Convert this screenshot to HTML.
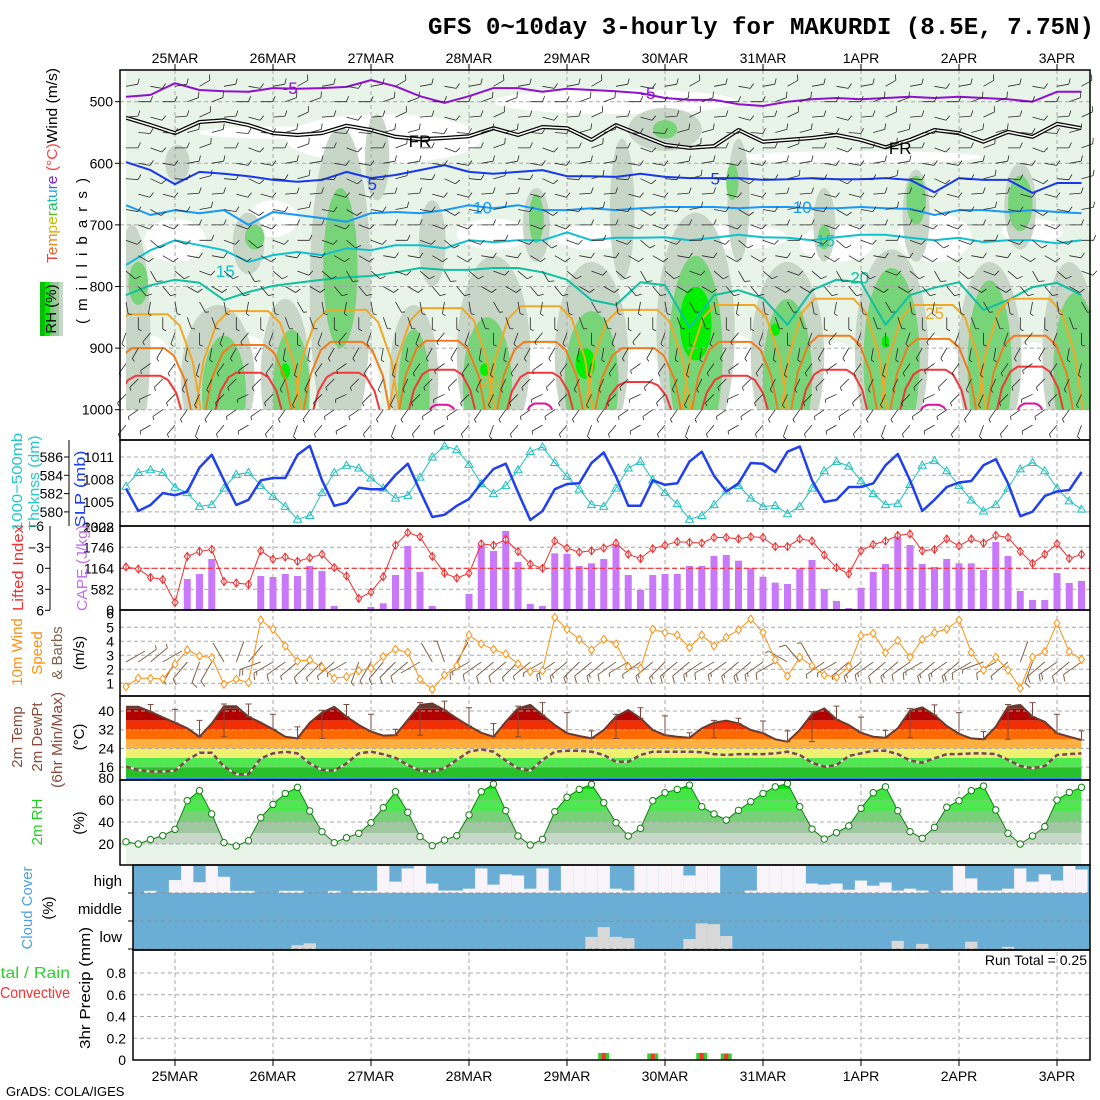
<!DOCTYPE html>
<html><head><meta charset="utf-8">
<style>
html,body{margin:0;padding:0;background:#fff;}
svg{display:block;font-family:"Liberation Sans",sans-serif;}
</style></head>
<body>
<svg id="chart" width="1100" height="1100" viewBox="0 0 1100 1100" xmlns="http://www.w3.org/2000/svg">
<defs>
<clipPath id="topClip"><rect x="126" y="70" width="964" height="340"/></clipPath>
<clipPath id="tempClip"><polygon id="tempClipPoly" points="0,0"/></clipPath>
<clipPath id="rhClip"><polygon id="rhClipPoly" points="0,0"/></clipPath>
</defs>
<rect x="0" y="0" width="1100" height="1100" fill="#fff"/>
<text x="428" y="34" font-family="Liberation Mono, monospace" font-weight="bold" font-size="24" textLength="666" lengthAdjust="spacingAndGlyphs">GFS 0~10day 3-hourly for MAKURDI (8.5E, 7.75N)</text>

<g id="gField" clip-path="url(#topClip)"></g>
<g id="gGrid"></g>
<g id="gIso" clip-path="url(#topClip)"></g>
<g id="gBarbs"></g>
<g id="gPanels"></g>
<g id="gFrames"></g>
<g id="gTicks"></g>

<text transform="translate(57,263) rotate(-90)" font-size="15" textLength="195" lengthAdjust="spacingAndGlyphs"><tspan fill="#f04040">T</tspan><tspan fill="#f06020">e</tspan><tspan fill="#f08a20">m</tspan><tspan fill="#e0b000">p</tspan><tspan fill="#b8c000">e</tspan><tspan fill="#60c020">r</tspan><tspan fill="#20c060">a</tspan><tspan fill="#20c0a0">t</tspan><tspan fill="#20a8e0">u</tspan><tspan fill="#4060f0">r</tspan><tspan fill="#8020e0">e</tspan><tspan fill="#ff4040"> (°C)</tspan><tspan fill="#000">Wind (m/s)</tspan></text>
<g>
<rect x="40" y="282" width="5" height="54" fill="#00c000"/>
<rect x="45" y="282" width="5" height="54" fill="#00f000"/>
<rect x="50" y="282" width="4" height="54" fill="#78d078"/>
<rect x="54" y="282" width="5" height="54" fill="#a0c8a0"/>
<rect x="59" y="282" width="4" height="54" fill="#c8d8c8"/>
<text transform="translate(56,309) rotate(-90)" font-size="15" text-anchor="middle" fill="#000">RH (%)</text>
</g>
<text transform="translate(87,251) rotate(-90)" font-size="15" text-anchor="middle" textLength="146" lengthAdjust="spacing">( m i l l i b a r s )</text>

<text transform="translate(22,482) rotate(-90)" font-size="15" text-anchor="middle" fill="#20c8c8" textLength="98" lengthAdjust="spacingAndGlyphs">1000−500mb</text>
<text transform="translate(39,483) rotate(-90)" font-size="15" text-anchor="middle" fill="#20c8c8" textLength="95" lengthAdjust="spacingAndGlyphs">Thcknss (dm)</text>
<text transform="translate(85,489) rotate(-90)" font-size="15" text-anchor="middle" fill="#2040f0" textLength="77" lengthAdjust="spacingAndGlyphs">SLP (mb)</text>

<text transform="translate(23,568) rotate(-90)" font-size="15" text-anchor="middle" fill="#f03030" textLength="86" lengthAdjust="spacingAndGlyphs">Lifted Index</text>
<text transform="translate(87,568) rotate(-90)" font-size="15" text-anchor="middle" fill="#c070f0" textLength="86" lengthAdjust="spacingAndGlyphs">CAPE (J/kg)</text>

<text transform="translate(22,652) rotate(-90)" font-size="15" text-anchor="middle" fill="#ff9010">10m Wind</text>
<text transform="translate(42,653) rotate(-90)" font-size="15" text-anchor="middle" fill="#ff9010">Speed</text>
<text transform="translate(62,653) rotate(-90)" font-size="15" text-anchor="middle" fill="#806048">&amp; Barbs</text>
<text transform="translate(84,653) rotate(-90)" font-size="15" text-anchor="middle" fill="#000">(m/s)</text>

<text transform="translate(22,737) rotate(-90)" font-size="15" text-anchor="middle" fill="#8b4a3a">2m Temp</text>
<text transform="translate(42,737) rotate(-90)" font-size="15" text-anchor="middle" fill="#8b4a3a">2m DewPt</text>
<text transform="translate(62,740) rotate(-90)" font-size="15" text-anchor="middle" fill="#8b4a3a" textLength="96" lengthAdjust="spacingAndGlyphs">(6hr Min/Max)</text>
<text transform="translate(84,737) rotate(-90)" font-size="15" text-anchor="middle" fill="#000">(°C)</text>

<text transform="translate(42,822) rotate(-90)" font-size="15" text-anchor="middle" fill="#20d020">2m RH</text>
<text transform="translate(84,823) rotate(-90)" font-size="15" text-anchor="middle" fill="#000">(%)</text>

<text transform="translate(32,908) rotate(-90)" font-size="15" text-anchor="middle" fill="#4aa0e0" textLength="83" lengthAdjust="spacingAndGlyphs">Cloud Cover</text>
<text transform="translate(53,908) rotate(-90)" font-size="15" text-anchor="middle" fill="#000">(%)</text>
<text x="122" y="886" font-size="15" text-anchor="end">high</text>
<text x="122" y="914" font-size="15" text-anchor="end">middle</text>
<text x="122" y="942" font-size="15" text-anchor="end">low</text>

<text x="-18" y="978" font-size="16" textLength="88" lengthAdjust="spacingAndGlyphs" fill="#30d030">Total / Rain</text>
<text x="0" y="998" font-size="16" textLength="70" lengthAdjust="spacingAndGlyphs" fill="#ff3030">Convective</text>
<text transform="translate(90,988) rotate(-90)" font-size="15" text-anchor="middle" fill="#000" textLength="122" lengthAdjust="spacingAndGlyphs">3hr Precip (mm)</text>
<text x="1087" y="965" font-size="14" text-anchor="end">Run Total = 0.25</text>
<text x="6" y="1096" font-size="13">GrADS: COLA/IGES</text>

<script>
// ---------------- DATA ----------------
const dayLabels = ["25MAR","26MAR","27MAR","28MAR","29MAR","30MAR","31MAR","1APR","2APR","3APR"];
const slp = [1006.8,1003.8,1004.6,1006.2,1005.9,1006.4,1009.6,1011.3,1007.9,1004.6,
 1005.3,1007.9,1008.2,1008.2,1011.3,1012.5,1007.9,1004.5,1004.9,1006.9,
 1006.7,1006.7,1008.6,1010.1,1006.5,1003.0,1003.3,1004.5,1005.4,1007.5,
 1009.4,1010.1,1006.3,1002.6,1003.8,1006.7,1007.4,1007.5,1010.2,1011.6,
 1008.4,1004.5,1004.5,1007.9,1007.3,1007.5,1010.4,1011.7,1008.5,1006.4,
 1007.5,1010.2,1010.1,1009.0,1011.7,1012.4,1007.9,1005.0,1005.3,1007.0,
 1007.0,1007.5,1009.9,1011.4,1007.9,1003.8,1005.3,1007.0,1007.6,1007.8,
 1009.9,1010.7,1007.5,1003.1,1003.7,1005.8,1006.4,1006.6,1009.0];
const thickness = [582.8,584.3,584.6,584.3,582.7,582.1,580.6,580.8,582.6,584.1,
 584.3,582.9,581.7,580.6,579.2,579.6,582.1,584.3,585.1,584.8,
 583.7,582.6,581.5,581.8,583.8,586.0,587.2,586.8,585.2,583.1,
 582.0,582.9,584.6,586.6,587.1,585.4,583.9,582.5,580.8,580.6,
 582.6,584.8,585.5,583.5,582.1,580.9,579.2,579.6,580.8,582.3,
 582.9,581.5,580.6,580.7,579.8,580.6,582.6,584.5,585.5,585.0,
 583.4,582.0,580.8,580.9,583.0,585.1,585.6,584.5,582.9,581.3,
 580.1,580.8,582.6,584.7,585.4,584.5,582.6,581.2,580.3];
const liftedIndex = [-0.2,0.1,1.3,1.6,4.9,-1.7,-2.4,-2.7,1.9,2.1,
 2.3,-2.5,-1.3,-1.6,-1.0,-1.5,-2.0,-0.1,1.1,4.3,
 3.4,1.2,-3.3,-5.1,-4.5,-1.7,0.7,1.4,0.7,-3.5,
 -3.3,-4.1,-2.4,-0.6,0.0,-3.9,-2.9,-2.3,-2.5,-2.9,
 -3.6,-2.0,-1.4,-2.8,-3.3,-3.8,-3.7,-3.6,-4.4,-4.4,
 -4.2,-4.5,-4.4,-3.1,-3.1,-4.2,-3.9,-1.9,-0.1,0.8,
 -2.5,-3.4,-3.9,-4.7,-4.9,-2.5,-2.7,-4.2,-3.2,-4.2,
 -3.6,-4.7,-4.4,-2.4,-0.7,-2.0,-3.5,-1.4,-2.0];
const cape = [30,0,0,0,0,868,1006,1422,0,0,
 0,951,923,1006,951,1228,1090,120,37,37,
 92,194,979,1782,1061,120,28,28,452,1837,
 1643,2198,1338,175,120,1579,1560,1228,1302,1422,
 1837,979,563,979,1006,1006,1228,1228,1505,1532,
 1375,1164,931,765,729,1164,1394,590,258,64,
 626,1061,1283,2040,1810,1283,1200,1422,1302,1302,
 1117,1893,1505,535,285,285,1034,757,812];
const windSpeed = [0.76,1.36,1.36,1.31,2.36,3.38,2.95,2.83,0.93,1.29,
 1.05,5.52,4.86,3.66,2.59,2.66,2.14,1.36,1.47,1.9,
 2.07,2.9,3.43,3.21,1.29,0.57,1.59,2.24,4.45,3.81,
 3.43,3.09,2.38,1.83,1.9,5.71,4.86,4.14,3.38,4.14,
 3.81,2.19,2.07,4.86,4.62,4.45,3.55,4.45,3.67,4.29,
 4.81,5.59,4.62,2.67,1.52,2.86,2.24,1.59,1.43,2.19,
 4.4,4.57,3.19,4.05,2.86,4.14,4.62,4.88,5.52,3.21,
 1.95,2.86,1.95,0.64,2.86,3.26,5.29,3.26,2.71];
const windDir10 = [60,55,50,60,210,220,200,210,330,20,
 40,250,240,235,230,225,225,230,240,200,
 210,220,225,230,240,330,340,30,240,235,
 230,230,225,230,240,235,230,225,230,230,
 235,240,235,230,225,230,230,235,240,235,
 230,230,235,240,300,320,330,235,240,230,
 230,235,230,230,235,240,230,235,230,240,
 250,240,230,20,200,230,235,230,235];
const temp2m = [41.8,41.8,39.7,37.3,35.0,32.6,29.0,34.7,42.0,42.0,
 37.6,35.0,32.2,29.0,28.3,35.0,39.3,41.8,37.6,34.0,
 31.2,29.5,29.7,36.2,42.6,43.2,40.4,36.9,33.6,30.7,
 29.0,35.4,41.1,42.6,38.3,34.0,30.5,29.3,28.3,31.9,
 37.6,40.4,36.9,31.9,29.7,29.0,28.6,32.6,35.0,35.9,
 34.7,31.9,30.5,27.9,26.9,31.9,38.7,41.1,36.4,34.0,
 30.7,29.0,28.6,32.6,40.1,41.6,38.3,33.6,30.2,28.3,
 27.9,33.3,41.8,42.6,37.6,35.4,30.5,29.0,27.6];
const dew2m = [16.2,14.8,14.1,14.1,14.5,19.0,22.2,22.2,16.2,13.0,
 13.0,19.8,21.9,22.6,21.9,17.6,14.8,14.5,17.6,21.9,
 22.6,21.5,20.0,16.9,14.5,14.1,15.5,19.1,22.6,23.6,
 22.6,18.8,15.5,14.5,19.1,22.6,23.0,23.0,22.6,21.2,
 18.3,18.3,21.2,22.6,22.6,22.6,22.6,22.4,21.6,21.2,
 21.6,21.6,21.6,21.9,22.6,21.2,17.9,16.2,16.9,20.8,
 21.9,23.0,23.0,21.6,18.8,17.9,19.8,21.6,21.6,21.9,
 21.9,21.6,19.1,16.5,15.5,16.5,21.2,21.6,21.9];
const rh2m = [22,20,24,27.6,33.3,59.4,68.5,47.3,21.2,18.2,
 23,43.9,56,66,71.5,50,31.2,21.2,25.7,29.7,
 39.4,53,67.5,48.8,26.7,18.5,23.6,27.6,46.4,67.5,
 74.5,50.3,27.3,19.1,24.3,49.4,62.5,69.7,74.3,57.5,
 39.4,27.3,34.2,59.4,66.6,69.7,73.6,53.9,47.3,41.8,
 50.6,58.5,66,72,75,53.9,33.6,24.5,30.3,36.4,
 52.4,66.6,72,50.3,31.2,25.2,35.2,53.4,59.4,68.5,
 72.7,50.9,29.7,20,27.3,35.8,60,67,71.5];
const highClear = [0,0,8,0,48,100,40,100,60,8,
 8,0,0,8,8,0,0,8,0,8,
 8,100,42,91,100,35,9,9,16,91,
 31,69,65,16,91,9,100,100,100,100,
 16,9,100,100,100,100,65,100,100,0,
 0,9,100,100,100,100,35,31,35,12,
 46,27,39,9,16,9,0,9,100,54,
 9,9,16,91,42,69,46,100,87];
const lowCloud = [0,0,0,0,0,0,0,0,0,0,
 0,0,0,0,14,21,0,0,0,0,
 0,0,0,0,0,0,0,0,0,0,
 0,0,0,0,0,0,0,0,45,81,
 45,40,0,0,0,0,37,95,92,48,
 0,0,0,0,0,0,0,0,0,0,
 0,0,0,30,0,19,0,0,0,27,
 0,0,8,0,0,0,0,0,0];
const precipIdx = [39,43,47,49];
const precipTotal = [0.065,0.06,0.065,0.06];
const precipConv = [0.065,0.06,0.065,0.06];

const isoM5 = [492,489,470,481,483,484,478,479,478,476,465,475,491,502,491,478,478,484,479,481,483,486,494,497,497,504,507,500,496,494,496,494,492,494,492,494,496,500,484,484];
const isoFR = [526,538,551,533,530,538,551,554,551,539,546,557,561,559,556,543,554,541,543,562,538,554,570,575,572,546,565,562,559,554,562,574,562,546,551,565,549,557,536,543];
const iso5 = [598,611,634,614,617,621,627,630,627,614,624,619,611,603,614,617,614,611,621,621,622,617,622,624,624,624,627,626,624,626,626,624,627,647,624,627,627,648,632,632];
const iso10 = [668,684,676,681,676,700,679,684,689,695,681,679,681,676,668,673,668,676,676,673,676,673,671,671,671,673,671,671,673,673,671,673,674,684,676,676,679,676,679,681];
const iso15 = [765,741,725,733,741,760,749,744,749,738,741,733,733,738,725,728,725,725,712,725,721,721,720,725,721,716,720,721,725,720,716,716,721,725,721,728,725,725,730,725];
const iso20 = [814,798,789,794,822,809,799,794,789,785,783,777,770,773,773,770,770,777,789,822,830,793,798,867,814,806,819,862,806,789,793,862,814,802,793,838,822,801,794,814];
const lobeCenter = [1.8,10,18,25.8,33.8,41.8,49.7,57.8,65.9,73.8];
const lobeTop25 = [845,840,838,835,832,838,830,820,830,820];
const lobeTop30 = [900,895,890,888,890,900,890,880,885,880];
const lobeTop35 = [945,940,940,935,940,955,945,935,935,930];
const lobeTop40 = [1000,1000,1000,992,990,1000,1000,1000,992,990];
const dryBlobs = [[2,880,1000,2.5],[10,880,1000,2.5],[18.5,890,1000,2.3],[26,880,1000,2.5],[34,890,1000,2.3],[42,900,1000,2],[50,880,1000,2.5],[58,890,1000,2.5],[66,880,1000,2.5],[74,890,1000,2.5],
 [4,690,760,2.5],[12,660,720,2],[21,520,600,8],[30,690,740,3],[38,700,740,3],[50,700,740,4],[58,700,760,3],[66,680,760,3],[74,690,730,2.5],[40,480,520,10],[12,540,560,6],[60,580,600,10]];
const grayBlobs = [[0.5,700,1000,1.5],[4.2,570,630,1],[7.5,830,1000,3],[10,680,780,1.3],[13,820,1000,2],[17.5,540,1000,2.5],[20.5,520,660,1],[23.5,830,1000,2],[25,660,800,1.1],[30,750,1000,3],[33.5,640,760,1.1],[38,760,1000,3],[40.5,560,790,1],[44,510,580,3],[46.5,680,1000,3.2],[50,560,760,0.9],[54,760,1000,3],[57,640,760,0.9],[62.5,740,1000,3],[64.5,610,760,1.1],[70.5,760,1000,2.6],[73,600,740,1.3],[77,760,1000,2.2]];
const greenBlobs = [[1,760,830,0.8],[8,880,1000,1.8],[10.5,700,740,0.8],[13.5,870,1000,1.5],[17.5,640,900,1.4],[23.5,870,1000,1.3],[29.5,850,1000,2],[33.5,650,730,0.6],[38,840,1000,2.2],[44,530,560,1],[46.5,750,1000,2.2],[49.5,600,660,0.5],[54,820,1000,2],[57,700,740,0.5],[62.5,770,1000,2.3],[64.5,620,700,0.8],[70.5,790,1000,1.8],[73,620,710,1],[77.5,810,1000,1.8]];
const brightBlobs = [[13,925,950,0.4],[29.3,925,945,0.4],[37.5,900,950,0.8],[46.5,800,920,1.3],[53,860,880,0.4],[62,880,900,0.3]];
const barbLevels = [475,525,575,625,675,725,775,825,875,925,975,1025];
const barbLevelDir = [80,85,90,95,100,110,130,170,200,215,225,220];
const barbLevelSpd = [6,6,6,5.5,5.5,5,5,3,3,3,3,3];
const barbDiurnal = [0,10,20,10,0,-10,-20,-10];
const pTicks = [500,600,700,800,900,1000];
const slpTicks = [1011,1008,1005];
const thkTicks = [586,584,582,580];
const liTicks = [-3,0,3,6];
const capeTicks = [1746,1164,582];
const wsTicks = [1,2,3,4,5,6];
const tTicks = [40,32,24,16];
const rhTicks = [20,40,60];
const prTicks = [0,0.2,0.4,0.6,0.8];

// ---------------- AXES ----------------
const N = temp2m.length;
const X = i => 126 + i * 12.25;
const yP = p => 101.7 + (p - 500) * 0.616;
const ySLP = v => 457 + (1011 - v) * 7.5;
const yThk = v => 457 + (586 - v) * 9.15;
const yLI = v => 568.3 + v * 7;
const yCAPE = v => 610.3 - v * 21 / 582;
const yWS = v => 697.3 - v * 14;
const yT = v => 711 + (40 - v) * 2.34;
const yRH = v => 844 - (v - 20) * 1.1;
const yPr = v => 1060 - v * 108.75;

const NS = 'http://www.w3.org/2000/svg';
function mk(tag, attrs, parent) {
  const e = document.createElementNS(NS, tag);
  for (const k in attrs) e.setAttribute(k, attrs[k]);
  parent.appendChild(e);
  return e;
}
const gField = document.getElementById('gField');
const gGrid = document.getElementById('gGrid');
const gIso = document.getElementById('gIso');
const gBarbs = document.getElementById('gBarbs');
const gPanels = document.getElementById('gPanels');
const gFrames = document.getElementById('gFrames');
const gTicks = document.getElementById('gTicks');
const pts = (arr, fy, step) => arr.map((v, k) => X(k * (step || 1)).toFixed(1) + ',' + fy(v).toFixed(1)).join(' ');

// ---------------- TOP FIELD ----------------
let el = mk('rect', {x:126, y:70, width:964, height:340, fill:'#e8f4e8'}, gField);


function blob(b, fill, name) {
  const bot = b[2] >= 1000 ? 1070 : b[2];
  const cx = X(b[0]), rx = b[3] * 12.25;
  const y0 = yP(b[1]), y1 = yP(bot);
  const e = mk('ellipse', {cx:cx, cy:(y0 + y1) / 2, rx:rx, ry:(y1 - y0) / 2, fill:fill}, gField);
  
  
}
dryBlobs.forEach(b => blob(b, '#ffffff', 'dry-region'));
grayBlobs.forEach(b => blob(b, '#c8d6c8', 'rh-50-region'));
greenBlobs.forEach(b => blob(b, '#78d478', 'rh-70-region'));
brightBlobs.forEach(b => blob(b, '#00f000', 'rh-90-region'));

// ---------------- GRID ----------------
pTicks.forEach(p => {
  const l = mk('line', {x1:120, x2:1090, y1:yP(p), y2:yP(p), stroke:'#a8a8a8', 'stroke-dasharray':'4,3'}, gGrid);
  
  
});
dayLabels.forEach((d, k) => {
  const x = X(4 + 8 * k);
  const l = mk('line', {x1:x, x2:x, y1:70, y2:1060, stroke:'#a8a8a8', 'stroke-dasharray':'4,3'}, gGrid);
  
  
});

// ---------------- ISOTHERMS ----------------
function isoLine(arr, color, width, name) {
  const e = mk('polyline', {points: pts(arr, yP, 2), fill:'none', stroke:color, 'stroke-width':width, 'stroke-linejoin':'round'}, gIso);
  
  
}
isoLine(isoM5, '#9010d0', 2, 'isotherm-minus5');
isoLine(isoFR, '#000', 4, 'isotherm-freezing');
isoLine(isoFR, '#fff', 1.5, 'isotherm-freezing-inner');
isoLine(iso5, '#1838f0', 2, 'isotherm-5');
isoLine(iso10, '#1898f8', 2, 'isotherm-10');
isoLine(iso15, '#10c0d0', 2, 'isotherm-15');
isoLine(iso20, '#10c0a0', 2, 'isotherm-20');
function lobes(tops, bw, tw, color, name) {
  lobeCenter.forEach((c, k) => {
    const top = tops[k];
    if (top >= 1000) return;
    const d = 1000 - top;
    const P = [[c-bw,1000],[c-bw*0.85,1000-d*0.5],[c-bw*0.6,1000-d*0.88],[c-tw,top],[c+tw,top],[c+bw*0.6,1000-d*0.88],[c+bw*0.85,1000-d*0.5],[c+bw,1000]];
    const e = mk('polyline', {points:P.map(q => X(q[0]).toFixed(1)+','+yP(q[1]).toFixed(1)).join(' '), fill:'none', stroke:color, 'stroke-width':2, 'stroke-linejoin':'round'}, gIso);
    
    
  });
}
lobes(lobeTop25, 4.3, 1.6, '#f0a828', 'isotherm-25-lobe');
lobes(lobeTop30, 3.5, 1.3, '#f07c20', 'isotherm-30-lobe');
lobes(lobeTop35, 2.7, 1.0, '#f03838', 'isotherm-35-lobe');
lobes(lobeTop40, 1.0, 0.4, '#e010a0', 'isotherm-40-lobe');
const isoLabelText = ["-5","-5","FR","FR","5","5","10","10","15","15","20","25","25"];
const isoLabelIdx = [13.4,42.6,24,63.2,20.1,48.1,29.1,55.2,8.1,57.1,59.9,66,29.7];
const isoLabelP = [478,486,564,575,634,625,672,671,775,725,785,843,955];
const isoLabelColor = ['#9010d0','#9010d0','#000','#000','#1838f0','#1838f0','#1898f8','#1898f8','#10c0d0','#10c0d0','#10c0a0','#f0a828','#f0a828'];
isoLabelText.forEach((t, k) => {
  const e = mk('text', {x:X(isoLabelIdx[k]), y:yP(isoLabelP[k]) + 6, 'font-size':17, 'text-anchor':'middle', fill:isoLabelColor[k]}, gIso);
  e.textContent = t;
  
  
});

// ---------------- BARBS ----------------
function barbPath(x, y, dirDeg, spd, len, flen) {
  const r = dirDeg * Math.PI / 180;
  const ux = Math.sin(r), uy = -Math.cos(r);
  const ex = x + ux * len, ey = y + uy * len;
  let d = 'M' + x.toFixed(1) + ',' + y.toFixed(1) + 'L' + ex.toFixed(1) + ',' + ey.toFixed(1);
  const px = uy, py = -ux;
  const full = Math.floor(spd / 5), half = (spd % 5) >= 2.5;
  let pos = 0;
  for (let k = 0; k < full; k++) {
    const bx = ex - ux * pos * 3, by = ey - uy * pos * 3;
    d += 'M' + bx.toFixed(1) + ',' + by.toFixed(1) + 'l' + ((px * 0.9 + ux * 0.4) * flen).toFixed(1) + ',' + ((py * 0.9 + uy * 0.4) * flen).toFixed(1);
    pos++;
  }
  if (half) {
    const bx = ex - ux * pos * 3, by = ey - uy * pos * 3;
    d += 'M' + bx.toFixed(1) + ',' + by.toFixed(1) + 'l' + ((px * 0.9 + ux * 0.4) * flen * 0.6).toFixed(1) + ',' + ((py * 0.9 + uy * 0.4) * flen * 0.6).toFixed(1);
  }
  return d;
}
for (let i = 0; i < N; i++) {
  barbLevels.forEach((p, k) => {
    const pp = (i % 2 === 1) ? p + 25 : p;
    if (pp > 1040) return;
    const dir = barbLevelDir[k] + barbDiurnal[i % 8];
    const e = mk('path', {d: barbPath(X(i), yP(pp), dir, barbLevelSpd[k], 12, 6), fill:'none', stroke:'#2a2a2a', 'stroke-width':0.8}, gBarbs);
    
    
  });
}

// ---------------- SLP / THICKNESS ----------------
thkTicks.forEach(v => {
  const l = mk('line', {x1:120, x2:1090, y1:yThk(v), y2:yThk(v), stroke:'#a8a8a8', 'stroke-dasharray':'4,3'}, gPanels);
  
  
});
el = mk('polyline', {points: pts(thickness, yThk), fill:'none', stroke:'#20c0c0', 'stroke-width':1}, gPanels);


thickness.forEach((v, i) => {
  const x = X(i), y = yThk(v);
  const t = mk('polygon', {points: x+','+(y-4)+' '+(x-4)+','+(y+3)+' '+(x+4)+','+(y+3), fill:'none', stroke:'#20c0c0', 'stroke-width':1}, gPanels);
  
  
});
el = mk('polyline', {points: pts(slp, ySLP), fill:'none', stroke:'#2040f0', 'stroke-width':2.5, 'stroke-linejoin':'round'}, gPanels);



// ---------------- LI / CAPE ----------------
capeTicks.forEach(v => {
  const l = mk('line', {x1:120, x2:1090, y1:yCAPE(v), y2:yCAPE(v), stroke:'#a8a8a8', 'stroke-dasharray':'4,3'}, gPanels);
  
  
});
cape.forEach((v, i) => {
  if (v <= 0) return;
  const b = mk('rect', {x:X(i)-3.5, y:yCAPE(v), width:7, height:yCAPE(0)-yCAPE(v), fill:'#c878f8'}, gPanels);
  
  
});
el = mk('line', {x1:120, x2:1090, y1:yLI(0), y2:yLI(0), stroke:'#f03030', 'stroke-width':1.2, 'stroke-dasharray':'5,3'}, gPanels);


el = mk('polyline', {points: pts(liftedIndex, yLI), fill:'none', stroke:'#f03030', 'stroke-width':1}, gPanels);


liftedIndex.forEach((v, i) => {
  const x = X(i), y = yLI(v);
  const m = mk('path', {d:'M'+x+','+(y-4)+'L'+(x+3)+','+y+'L'+x+','+(y+4)+'L'+(x-3)+','+y+'ZM'+x+','+(y-4)+'V'+(y+4), fill:'#fff', stroke:'#f03030', 'stroke-width':1}, gPanels);
  
  
});

// ---------------- 10m WIND ----------------
wsTicks.slice(0,5).forEach(v => {
  const l = mk('line', {x1:120, x2:1090, y1:yWS(v), y2:yWS(v), stroke:'#a8a8a8', 'stroke-dasharray':'4,3'}, gPanels);
  
  
});
windSpeed.forEach((v, i) => {
  const e = mk('path', {d: barbPath(X(i), 662, windDir10[i], v * 1.9, 22, 7), fill:'none', stroke:'#806048', 'stroke-width':1}, gPanels);
  
  
});
el = mk('polyline', {points: pts(windSpeed, yWS), fill:'none', stroke:'#ff9010', 'stroke-width':1}, gPanels);


windSpeed.forEach((v, i) => {
  const x = X(i), y = yWS(v);
  const m = mk('path', {d:'M'+x+','+(y-4)+'L'+(x+3)+','+y+'L'+x+','+(y+4)+'L'+(x-3)+','+y+'Z', fill:'#fff', stroke:'#ff9010', 'stroke-width':1}, gPanels);
  
  
});

// ---------------- TEMPERATURE ----------------
const tempBandLo = [11.7,16,20,24,28,32,36,41];
const tempBandHi = [16,20,24,28,32,36,41,50];
const tempBandColor = ['#28c028','#50e850','#f0f070','#ffb040','#ff6a00','#f03000','#b00000','#6b3a2e'];
document.getElementById('tempClipPoly').setAttribute('points', X(0)+','+yT(11.7)+' '+pts(temp2m, yT)+' '+X(N-1)+','+yT(11.7));
const gTemp = mk('g', {'clip-path':'url(#tempClip)'}, gPanels);


tempBandLo.forEach((lo, k) => {
  const r = mk('rect', {x:X(0), y:yT(tempBandHi[k]), width:X(N-1)-X(0), height:yT(lo)-yT(tempBandHi[k]), fill:tempBandColor[k]}, gTemp);
  
  
});
el = mk('rect', {x:X(0), y:yT(11.7), width:X(N-1)-X(0), height:2, fill:'#2080f0'}, gPanels);


tTicks.forEach(v => {
  const l = mk('line', {x1:120, x2:1090, y1:yT(v), y2:yT(v), stroke:'#a8a8a8', 'stroke-dasharray':'4,3'}, gPanels);
  
  
});
el = mk('polyline', {points: pts(temp2m, yT), fill:'none', stroke:'#6b3a2e', 'stroke-width':2}, gPanels);


for (let i = 2; i < N; i += 2) {
  const seg = temp2m.slice(i - 2, i + 1);
  const lo = Math.min(...seg), hi = Math.max(...seg) + 1;
  const x = X(i);
  const e = mk('path', {d:'M'+x+','+yT(hi)+'V'+yT(lo)+'M'+(x-3)+','+yT(hi)+'h6M'+(x-3)+','+yT(lo)+'h6', fill:'none', stroke:'#7a4a40', 'stroke-width':1}, gPanels);
  
  
}
el = mk('polyline', {points: pts(dew2m, yT), fill:'none', stroke:'#e8e0e0', 'stroke-width':2}, gPanels);


el = mk('polyline', {points: pts(dew2m, yT), fill:'none', stroke:'#7a4a40', 'stroke-width':2.5, 'stroke-dasharray':'5,3'}, gPanels);



// ---------------- 2m RH ----------------
const rhBandLo = [0,20,30,40,50,60,70];
const rhBandHi = [20,30,40,50,60,70,100];
const rhBandColor = ['#e8f4e8','#c8d8c8','#a0c8a0','#78d078','#50e850','#44e444','#00e000'];
document.getElementById('rhClipPoly').setAttribute('points', X(0)+',865 '+pts(rh2m, yRH)+' '+X(N-1)+',865');
const gRH = mk('g', {'clip-path':'url(#rhClip)'}, gPanels);


rhBandLo.forEach((lo, k) => {
  const yTop = yRH(rhBandHi[k]), yBot = Math.min(865, yRH(lo));
  const r = mk('rect', {x:X(0), y:yTop, width:X(N-1)-X(0), height:yBot-yTop, fill:rhBandColor[k]}, gRH);
  
  
});
rhTicks.forEach(v => {
  const l = mk('line', {x1:120, x2:1090, y1:yRH(v), y2:yRH(v), stroke:'#a8a8a8', 'stroke-dasharray':'4,3'}, gPanels);
  
  
});
el = mk('polyline', {points: pts(rh2m, yRH), fill:'none', stroke:'#108010', 'stroke-width':1}, gPanels);


rh2m.forEach((v, i) => {
  const c = mk('circle', {cx:X(i), cy:yRH(v), r:3.2, fill:'#fff', stroke:'#108010', 'stroke-width':1}, gPanels);
  
  
});

// ---------------- CLOUD COVER ----------------
el = mk('rect', {x:133, y:866, width:957, height:84, fill:'#6aaed6'}, gPanels);


highClear.forEach((v, i) => {
  if (v <= 0) return;
  const x0 = Math.max(133, X(i) - 6.125), x1 = Math.min(1090, X(i) + 6.125);
  const h = v / 100 * 27;
  const r = mk('rect', {x:x0, y:893-h, width:x1-x0, height:h, fill:'#f8f4fa'}, gPanels);
  
  
});
lowCloud.forEach((v, i) => {
  if (v <= 0) return;
  const h = v / 100 * 27;
  const r = mk('rect', {x:X(i)-6.125, y:949-h, width:12.25, height:h, fill:'#d8d8d8'}, gPanels);
  
  
});
[893, 921, 949].forEach(y => {
  const l = mk('line', {x1:133, x2:1090, y1:y, y2:y, stroke:'#909090', 'stroke-dasharray':'4,3'}, gPanels);
  
  
  const t = mk('line', {x1:128, x2:133, y1:y, y2:y, stroke:'#000'}, gPanels);
  
  
});

// ---------------- PRECIP ----------------
prTicks.slice(1).forEach(v => {
  const l = mk('line', {x1:133, x2:1090, y1:yPr(v), y2:yPr(v), stroke:'#a8a8a8', 'stroke-dasharray':'4,3'}, gPanels);
  
  
});
precipIdx.forEach((idx, k) => {
  const x = X(idx);
  const g = mk('rect', {x:x-5.5, y:yPr(precipTotal[k]), width:11, height:yPr(0)-yPr(precipTotal[k]), fill:'#30d030'}, gPanels);
  
  
  const r = mk('rect', {x:x-2, y:yPr(precipConv[k]), width:4, height:yPr(0)-yPr(precipConv[k]), fill:'#ff3030'}, gPanels);
  
  
});

// ---------------- FRAMES ----------------
const frameX = [120,120,120,120,120,120,133,133];
const frameY0 = [70,440,526,610,696,780,865,950];
const frameY1 = [440,526,610,696,780,865,950,1060];
frameX.forEach((x, k) => {
  const r = mk('rect', {x:x, y:frameY0[k], width:1090-x, height:frameY1[k]-frameY0[k], fill:'none', stroke:'#000', 'stroke-width':1.5}, gFrames);
  
  
});
el = mk('line', {x1:69, x2:69, y1:440, y2:526, stroke:'#000'}, gFrames);


el = mk('line', {x1:50, x2:50, y1:526, y2:610, stroke:'#000'}, gFrames);



// ---------------- TICK LABELS ----------------
function tick(x, y, txt, name, anchor) {
  const t = mk('text', {x:x, y:y + 5, 'font-size':14, 'text-anchor':anchor || 'end'}, gTicks);
  t.textContent = txt;
  
  
  return t;
}
pTicks.forEach(p => {
  tick(113, yP(p), String(p), 'pressure-tick-label');
  const l = mk('line', {x1:115, x2:120, y1:yP(p), y2:yP(p), stroke:'#000'}, gTicks);
  
  
});
slpTicks.forEach(v => tick(114, ySLP(v), String(v), 'slp-tick-label'));
tick(114, 527, '1002', 'slp-tick-label');
tick(114, 527, '2328', 'cape-tick-label');
thkTicks.forEach(v => {
  tick(63, yThk(v), String(v), 'thickness-tick-label');
  const l = mk('line', {x1:64, x2:69, y1:yThk(v), y2:yThk(v), stroke:'#000'}, gTicks);
  
  
});
liTicks.forEach(v => {
  tick(44, yLI(v), String(v).replace('-', '−'), 'li-tick-label');
  const l = mk('line', {x1:45, x2:50, y1:yLI(v), y2:yLI(v), stroke:'#000'}, gTicks);
  
  
});
tick(44, 526, '−6', 'li-tick-label');
capeTicks.forEach(v => tick(114, yCAPE(v), String(v), 'cape-tick-label'));
tick(114, 610, '0', 'cape-tick-label');
wsTicks.forEach(v => tick(114, yWS(v), String(v), 'wind-tick-label'));
tTicks.forEach(v => tick(114, yT(v), String(v), 'temp-tick-label'));
tick(114, 778, '80', 'temp-tick-label');
rhTicks.forEach(v => tick(114, yRH(v), String(v), 'rh-tick-label'));
prTicks.forEach(v => tick(126, yPr(v), String(v), 'precip-tick-label'));
dayLabels.forEach((d, k) => {
  const x = X(4 + 8 * k);
  const t1 = mk('text', {x:x, y:63, 'font-size':14, 'text-anchor':'middle'}, gTicks);
  t1.textContent = d;
  
  
  const t2 = mk('text', {x:x, y:1081, 'font-size':14, 'text-anchor':'middle'}, gTicks);
  t2.textContent = d;
  
  
  const m1 = mk('line', {x1:x, x2:x, y1:64, y2:70, stroke:'#000'}, gTicks);
  
  
  const m2 = mk('line', {x1:x, x2:x, y1:1060, y2:1066, stroke:'#000'}, gTicks);
  
  
});
</script>
</svg>
</body></html>
